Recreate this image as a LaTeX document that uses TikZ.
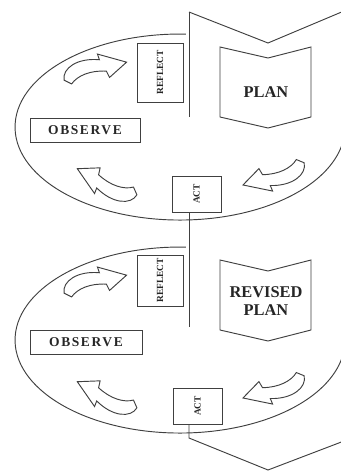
\documentclass[tikz,border=0pt]{standalone}
\usepackage{fontspec}
\setmainfont{Liberation Serif}
\colorlet{ink}{black!75}

\tikzset{
  boxline/.style={draw=ink, line width=0.8pt},
  labelbox/.style={boxline, fill=white, text=black!85, inner sep=0pt},
  sidebox/.style={labelbox, rotate=90,
    font=\fontsize{8}{9}\selectfont\bfseries},
  wordbox/.style={labelbox,
    font=\fontsize{11.5}{13}\selectfont\bfseries\addfontfeature{LetterSpace=12}},
  plantext/.style={align=center, text=black!85,
    font=\fontsize{14}{16}\selectfont\bfseries},
  cyclearrow/.pic={
    \draw[boxline, fill=white] (0,-3) .. controls (2,-15) and (20,-20) .. (40,-11)
      -- (40,-17) -- (65,0) -- (44,9) -- (43,2)
      .. controls (28,-4) and (14,-3) .. (6,3) -- cycle;
  }
}

\begin{document}
\begin{tikzpicture}[x=0.03cm, y=-0.03cm]
\useasboundingbox[fill=white] (0,0) rectangle (341,473);
\clip (0,0) rectangle (341,473);

% first cycle
\coordinate (top1) at (189,12);
\coordinate (spine1) at (189,117);
\draw[boxline] (185.8,34.1) arc[start angle=272, end angle=-5, x radius=165, y radius=93];
\draw[boxline] (top1) -- (268,43) -- (344,11);
\draw[boxline] (top1) -- (spine1);

\node[sidebox, minimum width=1.77cm, minimum height=1.38cm] (reflect) at (160,72.5) {REFLECT};
\node[wordbox, minimum width=3.3cm, minimum height=0.72cm] (observe) at (85,130) {OBSERVE};
\node[sidebox, minimum width=1.08cm, minimum height=1.47cm] (act) at (196.5,194) {ACT};

\draw[boxline] (220,47) -- (268,58) -- (311,47) -- (311,117) -- (268,128) -- (220,117) -- cycle;
\node[plantext] (plan) at (266,92) {PLAN};

\pic[rotate=18.7] at (65,83) {cyclearrow};
\pic[rotate=159] at (138,192) {cyclearrow};
\pic[rotate=202.6] at (303,160) {cyclearrow};

% second cycle
\coordinate (top2) at (189,212);
\coordinate (spine2) at (189,327);
\draw[boxline] (185.8,247.1) arc[start angle=272, end angle=-5, x radius=165, y radius=93];
\draw[boxline] (top2) -- (spine2);

\node[sidebox, minimum width=1.53cm, minimum height=1.38cm] (reflect2) at (160,280.5) {REFLECT};
\node[wordbox, minimum width=3.36cm, minimum height=0.72cm] (observe2) at (86,342) {OBSERVE};
\node[sidebox, minimum width=1.08cm, minimum height=1.47cm] (act2) at (197.5,406) {ACT};

\draw[boxline] (220,260) -- (268,271) -- (311,260) -- (311,330) -- (268,341) -- (220,330) -- cycle;
\node[plantext] (revised) at (266,301) {REVISED\\PLAN};

\pic[rotate=18.7] at (65,296) {cyclearrow};
\pic[rotate=159] at (138,405) {cyclearrow};
\pic[rotate=202.6] at (303,373) {cyclearrow};

% next page
\coordinate (top3) at (189,424);
\coordinate (fold3) at (189,438);
\draw[boxline] (top3) -- (fold3) -- (268,470) -- (344,441);
\end{tikzpicture}
\end{document}
